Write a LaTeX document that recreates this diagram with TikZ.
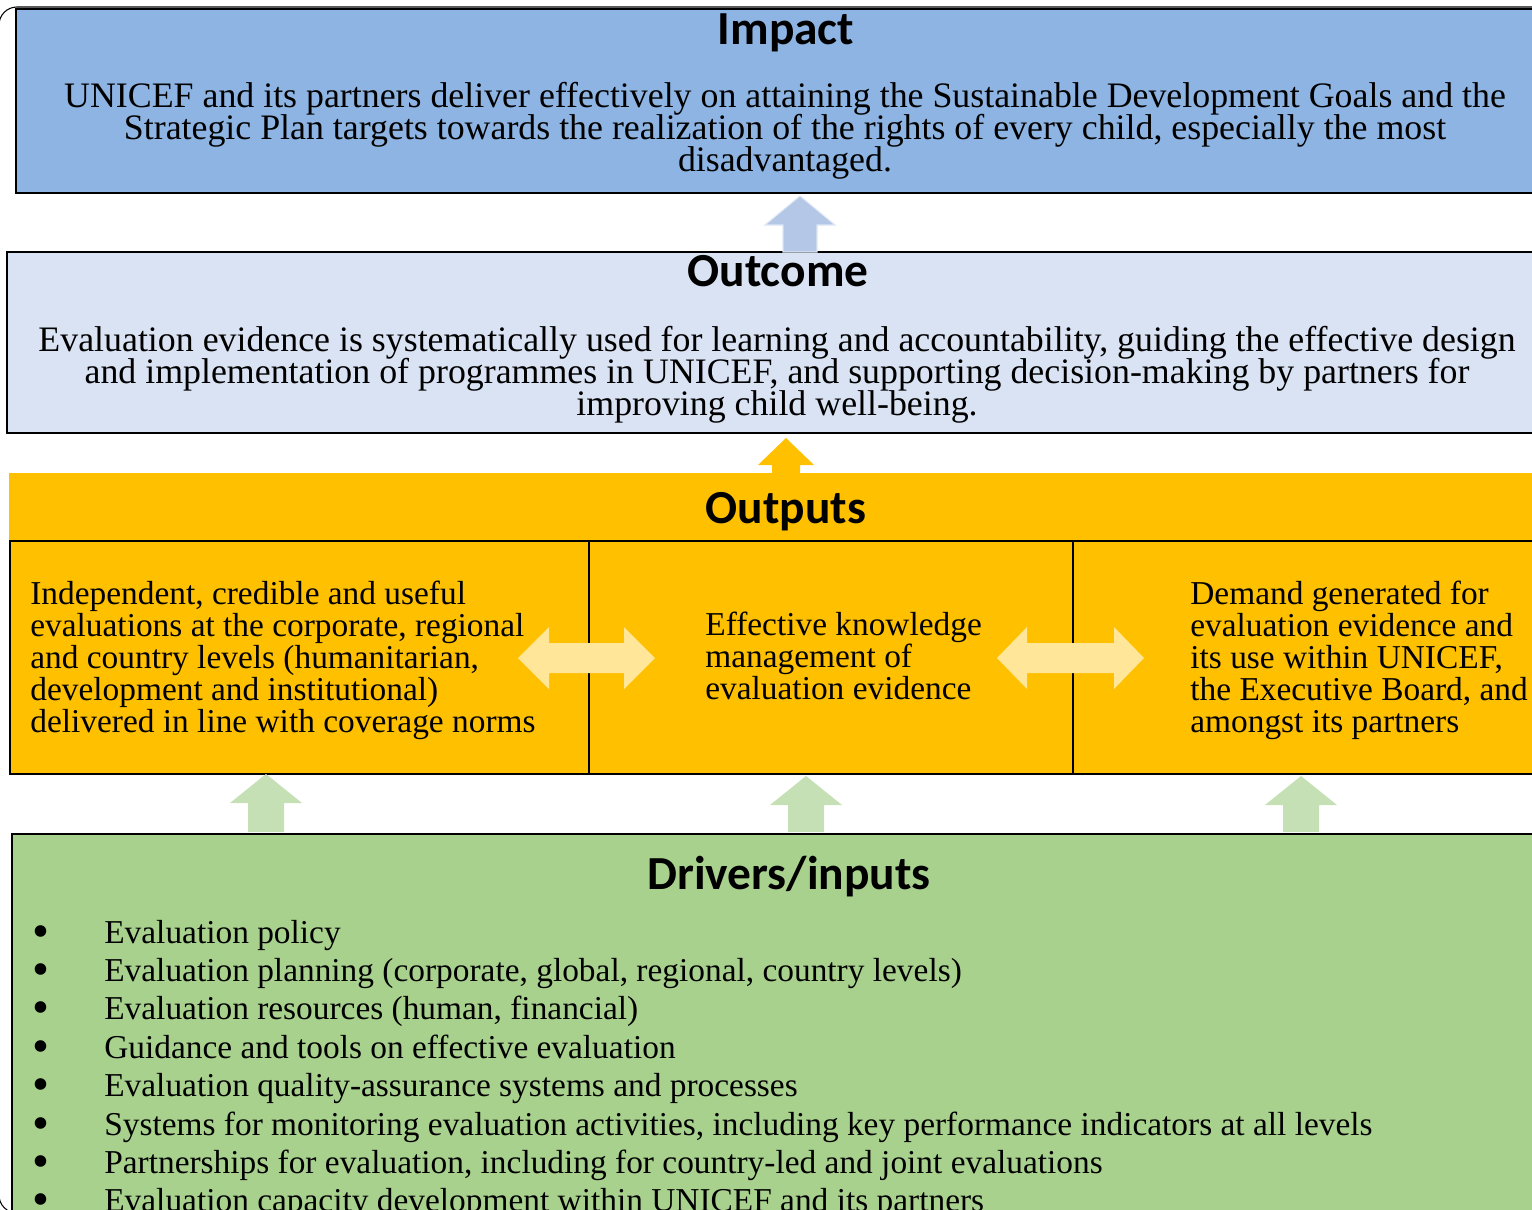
\documentclass[tikz,border=0pt]{standalone}
\usepackage{fontspec}
\setmainfont{Liberation Serif}
\newfontfamily\headfont{Carlito}
\usetikzlibrary{positioning}

\definecolor{impactblue}{HTML}{8DB4E2}
\definecolor{outcomeblue}{HTML}{DAE3F3}
\definecolor{outputorange}{HTML}{FFC000}
\definecolor{drivergreen}{HTML}{A9D18E}
\definecolor{arrowblue}{HTML}{B4C7E7}
\definecolor{arrowyellow}{HTML}{FFE699}
\definecolor{arrowgreen}{HTML}{C5E0B4}

% block arrow pointing up: colour, centre x, tip y, head base y, head half width, shaft half width, bottom y
\newcommand{\blockup}[7]{\fill[#1] (#2,#3) -- (#2+#5,#4) -- (#2+#6,#4) -- (#2+#6,#7) -- (#2-#6,#7) -- (#2-#6,#4) -- (#2-#5,#4) -- cycle;}
% block arrow with two heads: left tip x, right tip x, y, head length, head half width, shaft half width
\newcommand{\blockboth}[6]{\fill[arrowyellow] (#1,#3) -- (#1+#4,#3-#5) -- (#1+#4,#3-#6) -- (#2-#4,#3-#6) -- (#2-#4,#3-#5) -- (#2,#3) -- (#2-#4,#3+#5) -- (#2-#4,#3+#6) -- (#1+#4,#3+#6) -- (#1+#4,#3+#5) -- cycle;}
\newcommand{\bul}{\makebox[1.44cm][l]{\raisebox{-0.13em}{\scalebox{1.45}{\textbullet}}}}
\newcommand{\tightlines}{\lineskiplimit=-30pt\relax}

\tikzset{
	box/.style={draw=black, line width=0.9pt},
	heading/.style={font=\headfont\bfseries\fontsize{27}{27}\selectfont, inner sep=0pt, anchor=base},
	boxtext/.style={font=\fontsize{20.4}{18.2}\selectfont\tightlines, align=center, inner sep=0pt, anchor=base},
	celltext/.style={font=\fontsize{19}{18.2}\selectfont\tightlines, align=left, inner sep=0pt, anchor=base west},
	drvitem/.style={font=\fontsize{19}{19}\selectfont, inner sep=0pt, anchor=base west}
}

\begin{document}
\begin{tikzpicture}[x=0.02cm, y=-0.02cm]
	\useasboundingbox (0,0) rectangle (1532,1210);
	\clip (0,0) rectangle (1532,1210);

	% frame and boxes
	\draw[line width=0.6pt, rounded corners=0.36cm] (-1,7) rectangle (1600,1213);
	\draw[box, fill=impactblue] (16,9) rectangle (1560,193);
	\draw[box, fill=outcomeblue] (7,252) rectangle (1560,433);
	\fill[outputorange] (9,473) rectangle (1560,541);
	\draw[box, fill=outputorange] (10,541) rectangle (589,774);
	\draw[box, fill=outputorange] (589,541) rectangle (1073,774);
	\draw[box, fill=outputorange] (1073,541) rectangle (1560,774);
	\draw[box, fill=drivergreen] (12,834) rectangle (1560,1230);

	% arrows
	\blockup{arrowblue, draw=white!55!arrowblue, line width=0.6pt}{800}{196}{225}{35}{17}{252}
	\blockup{outputorange}{786}{438}{465}{28}{14}{473}
	\blockboth{518}{655}{658}{31}{31}{15}
	\blockboth{997}{1144}{658}{30}{31}{15}
	\blockup{arrowgreen}{266}{774}{803}{36}{18}{832}
	\blockup{arrowgreen}{806}{776}{805}{36}{18}{832}
	\blockup{arrowgreen}{1301}{776}{805}{36}{18}{832}

	% headings
	\node[heading] (impacttitle) at (786,44) {Impact};
	\node[heading] (outcometitle) at (778,286) {Outcome};
	\node[heading] (outputstitle) at (786,523) {Outputs};
	\node[heading] (driverstitle) at (789,889) {Drivers/inputs};

	% texts (anchored at the last line)
	\node[boxtext] (impacttext) at (785,171) {UNICEF and its partners deliver effectively on attaining the Sustainable Development Goals and the\\
		Strategic Plan targets towards the realization of the rights of every child, especially the most\\
		disadvantaged.};
	\node[boxtext] (outcometext) at (777,415) {Evaluation evidence is systematically used for learning and accountability, guiding the effective design\\
		and implementation of programmes in UNICEF, and supporting decision-making by partners for\\
		improving child well-being.};
	\node[celltext] (outleft) at (30,732) {Independent, credible and useful\\
		evaluations at the corporate, regional\\
		and country levels (humanitarian,\\
		development and institutional)\\
		delivered in line with coverage norms};
	\node[celltext] (outmid) at (705,699) {Effective knowledge\\
		management of\\
		evaluation evidence};
	\node[celltext] (outright) at (1190,732) {Demand generated for\\
		evaluation evidence and\\
		its use within UNICEF,\\
		the Executive Board, and\\
		amongst its partners};

	% drivers list
	\node[drvitem] (d1) at (32,943) {\bul Evaluation policy};
	\node[drvitem] (d2) at (32,981) {\bul Evaluation planning (corporate, global, regional, country levels)};
	\node[drvitem] (d3) at (32,1019) {\bul Evaluation resources (human, financial)};
	\node[drvitem] (d4) at (32,1058) {\bul Guidance and tools on effective evaluation};
	\node[drvitem] (d5) at (32,1096) {\bul Evaluation quality-assurance systems and processes};
	\node[drvitem] (d6) at (32,1135) {\bul Systems for monitoring evaluation activities, including key performance indicators at all levels};
	\node[drvitem] (d7) at (32,1173) {\bul Partnerships for evaluation, including for country-led and joint evaluations};
	\node[drvitem] (d8) at (32,1211) {\bul Evaluation capacity development within UNICEF and its partners};
\end{tikzpicture}
\end{document}
